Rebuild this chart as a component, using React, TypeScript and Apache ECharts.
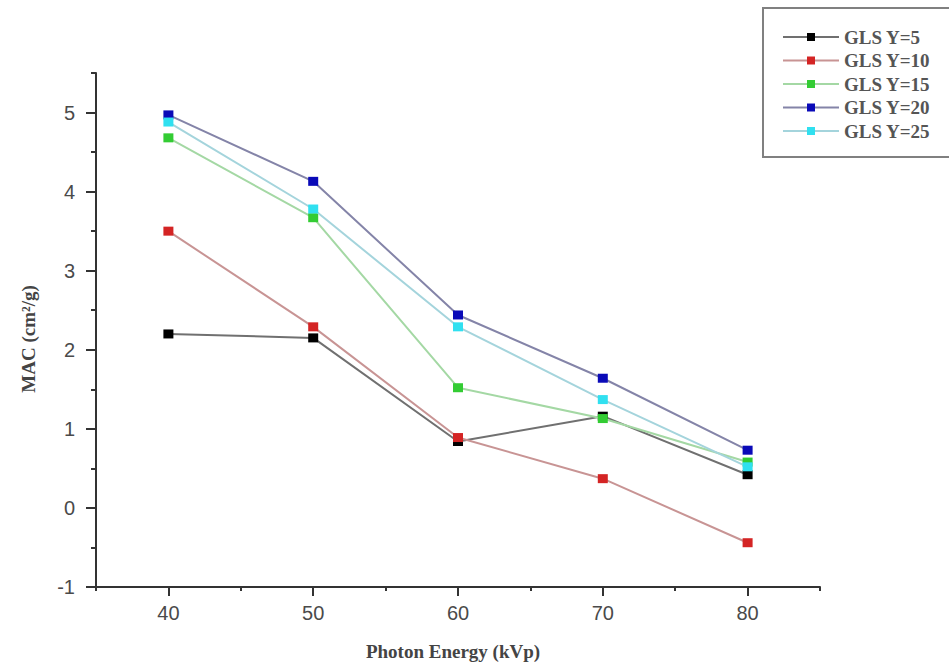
import React, { useEffect, useRef } from "react";
import * as echarts from "echarts";

const energies = [40, 50, 60, 70, 80];
const seriesNames = ["GLS Y=5", "GLS Y=10", "GLS Y=15", "GLS Y=20", "GLS Y=25"];
const y5 = [2.2, 2.15, 0.84, 1.16, 0.42];
const y10 = [3.5, 2.29, 0.89, 0.37, -0.44];
const y15 = [4.68, 3.67, 1.52, 1.13, 0.58];
const y20 = [4.97, 4.13, 2.44, 1.64, 0.73];
const y25 = [4.88, 3.78, 2.29, 1.37, 0.52];
const xMajorTicks = [40, 50, 60, 70, 80];
const xMinorTicks = [35, 45, 55, 65, 75, 85];
const yMajorTicks = [-1, 0, 1, 2, 3, 4, 5];
const yMinorTicks = [-0.5, 0.5, 1.5, 2.5, 3.5, 4.5, 5.5];

const markerColors = ["#000000", "#d42424", "#33cc33", "#0a0ab8", "#30e0f0"];
const lineColors = ["#707070", "#c89494", "#a4d8a4", "#8484a8", "#a4d4dc"];

export default function App() {
  const ref = useRef<HTMLDivElement>(null);
  useEffect(() => {
    if (!ref.current) return;
    const chart = echarts.init(ref.current, undefined, { renderer: "svg" });
    const allValues = [y5, y10, y15, y20, y25];
    const axisLineStyle = { color: "#333", width: 2 };
    const labelStyle = { color: "#4a4a4a", fontSize: 20, fontFamily: "Liberation Sans, Arial, sans-serif" };
    const nameStyle = { color: "#444", fontSize: 19, fontWeight: "bold", fontFamily: "Liberation Serif, serif" };
    chart.setOption({
      animation: false,
      backgroundColor: "#ffffff",
      grid: { left: 96, right: 129, top: 73, bottom: 83, containLabel: false },
      xAxis: [
        {
          type: "value",
          min: 35,
          max: 85,
          position: "bottom",
          name: "Photon Energy (kVp)",
          nameLocation: "middle",
          nameGap: 55,
          nameTextStyle: { ...nameStyle, padding: [0, 10, 0, 0] },
          axisLine: { show: true, onZero: false, lineStyle: axisLineStyle },
          axisTick: { show: true, customValues: xMajorTicks, length: 9, lineStyle: axisLineStyle },
          axisLabel: { customValues: xMajorTicks, margin: 16, ...labelStyle },
          splitLine: { show: false },
        },
        {
          type: "value",
          min: 35,
          max: 85,
          position: "bottom",
          axisLine: { show: false, onZero: false },
          axisTick: { show: true, customValues: xMinorTicks, length: 4, lineStyle: axisLineStyle },
          axisLabel: { show: false },
          splitLine: { show: false },
        },
      ],
      yAxis: [
        {
          type: "value",
          min: -1,
          max: 5.5,
          position: "left",
          name: "MAC (cm²/g)",
          nameLocation: "middle",
          nameGap: 58,
          nameTextStyle: { ...nameStyle, padding: [0, 18, 0, 0] },
          axisLine: { show: true, onZero: false, lineStyle: axisLineStyle },
          axisTick: { show: true, customValues: yMajorTicks, length: 10, lineStyle: axisLineStyle },
          axisLabel: { customValues: yMajorTicks, margin: 21, ...labelStyle },
          splitLine: { show: false },
        },
        {
          type: "value",
          min: -1,
          max: 5.5,
          position: "left",
          axisLine: { show: false, onZero: false },
          axisTick: { show: true, customValues: yMinorTicks, length: 5, lineStyle: axisLineStyle },
          axisLabel: { show: false },
          splitLine: { show: false },
        },
      ],
      legend: {
        orient: "vertical",
        left: 777,
        top: 22,
        itemWidth: 56,
        itemHeight: 10,
        itemGap: 3.5,
        textStyle: { color: "#555", fontSize: 19, fontWeight: "bold", fontFamily: "Liberation Serif, serif", lineHeight: 20 },
        data: seriesNames,
      },
      graphic: [
        {
          type: "rect",
          shape: { x: 763, y: 8, width: 220, height: 149 },
          style: { fill: "none", stroke: "#808080", lineWidth: 2 },
          silent: true,
        },
      ],
      series: seriesNames.map((name, i) => ({
        name,
        type: "line",
        xAxisIndex: 0,
        yAxisIndex: 0,
        data: energies.map((x, j) => [x, allValues[i][j]]),
        symbol: "rect",
        symbolSize: [10, 9],
        itemStyle: { color: markerColors[i] },
        lineStyle: { color: lineColors[i], width: 2 },
        z: 2 + i,
      })),
    });
    return () => chart.dispose();
  }, []);
  return (
    <div
      ref={ref}
      style={{ position: "fixed", left: 0, top: 0, width: 949, height: 670, background: "#fff" }}
    />
  );
}
